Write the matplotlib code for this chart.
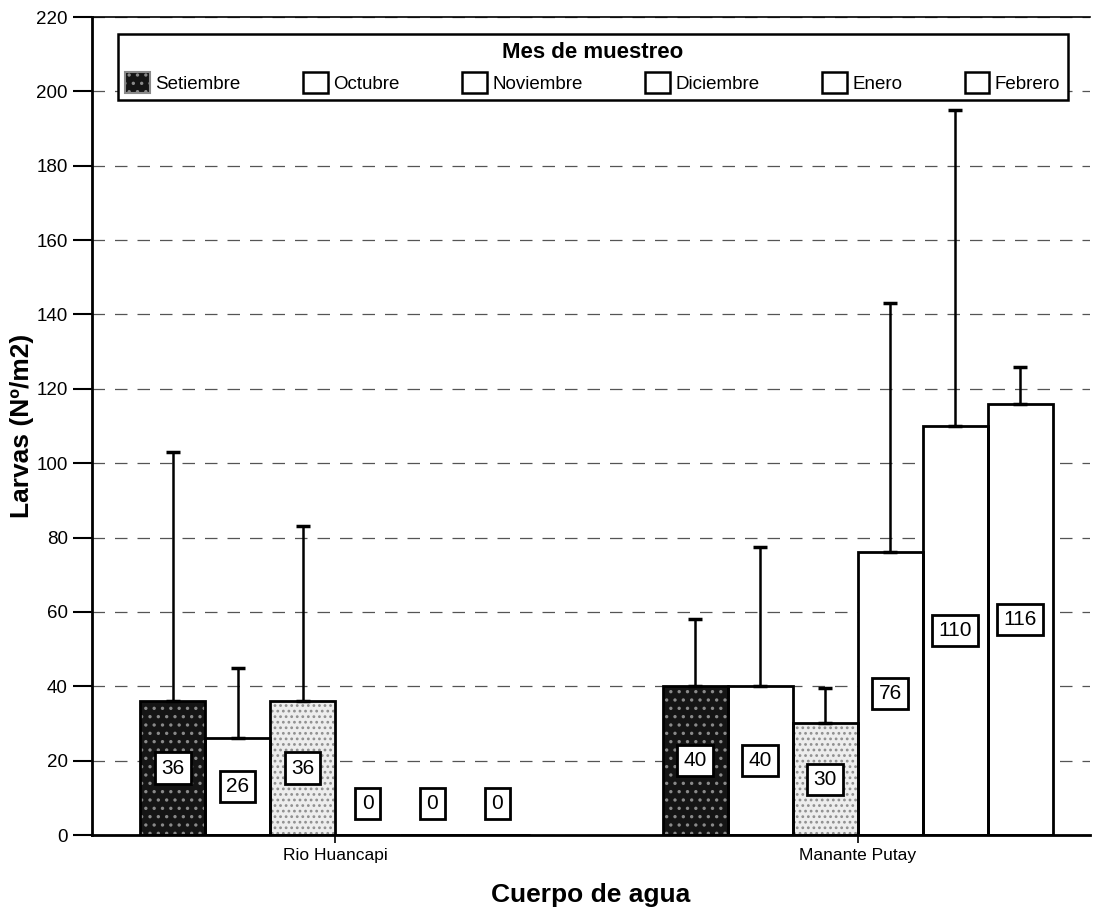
import matplotlib
matplotlib.use("Agg")
import matplotlib.pyplot as plt
import numpy as np
from matplotlib.patches import Patch

plt.rcParams['font.family'] = ['Liberation Sans', 'DejaVu Sans']
plt.rcParams['hatch.linewidth'] = 1.2

categories = ["Rio Huancapi", "Manante Putay"]
months = ["Setiembre", "Octubre", "Noviembre", "Diciembre", "Enero", "Febrero"]
values = {
    "Setiembre": [36, 40],
    "Octubre":   [26, 40],
    "Noviembre": [36, 30],
    "Diciembre": [0, 76],
    "Enero":     [0, 110],
    "Febrero":   [0, 116],
}
err_top = {
    "Setiembre": [103, 58],
    "Octubre":   [45, 77.5],
    "Noviembre": [83, 39.5],
    "Diciembre": [0, 143],
    "Enero":     [0, 195],
    "Febrero":   [0, 126],
}
yticks = list(range(0, 221, 20))

face = {"Setiembre": "#151515", "Octubre": "white", "Noviembre": "#ededed",
        "Diciembre": "white", "Enero": "white", "Febrero": "white"}
hatchc = {"Setiembre": "#8a8a8a", "Noviembre": "#8f8f8f"}
hatches = {"Setiembre": "..", "Noviembre": "..."}

fig = plt.figure(figsize=(10.93, 9.16), dpi=100)
ax = fig.add_axes([0.0842, 0.0884, 0.9128, 0.893])

x = np.arange(len(categories))
w = 0.1243
n = len(months)
for i, m in enumerate(months):
    pos = x + (i - (n - 1) / 2) * w
    vals = np.array(values[m], dtype=float)
    tops = np.array(err_top[m], dtype=float)
    if m in hatches:
        ax.bar(pos, vals, w, facecolor=face[m], edgecolor=hatchc[m],
               hatch=hatches[m], linewidth=0, zorder=2)
    else:
        ax.bar(pos, vals, w, facecolor=face[m], linewidth=0, zorder=2)
    ax.bar(pos, vals, w, fill=False, edgecolor="black", linewidth=2.0, zorder=3)
    for p, v, t in zip(pos, vals, tops):
        if v > 0:
            ax.errorbar([p], [v], yerr=[[0], [t - v]], fmt="none", ecolor="black",
                        elinewidth=1.8, capsize=5, capthick=2.5, zorder=4)
        ly = max(v / 2.0, 8.5)
        ax.text(p, ly, f"{int(v)}", ha="center", va="center", fontsize=15,
                zorder=5,
                bbox=dict(boxstyle="square,pad=0.3", facecolor="white",
                          edgecolor="black", linewidth=2.0))

ax.set_xlim(-0.465, 1.444)
ax.set_ylim(0, 220)
ax.set_yticks(yticks)
ax.set_yticklabels([str(t) for t in yticks], fontsize=13.5)
ax.set_xticks(x)
ax.set_xticklabels(categories, fontsize=12.5)
ax.tick_params(axis="y", length=14, width=1.5)
ax.tick_params(axis="x", length=6, width=1.2)
ax.yaxis.grid(True, linestyle=(0, (10, 8)), color="#555555", linewidth=0.9)
ax.set_axisbelow(True)
ax.spines["right"].set_visible(False)
ax.spines["top"].set_linewidth(1.2)
ax.spines["left"].set_linewidth(2.0)
ax.spines["bottom"].set_linewidth(2.0)

ax.set_ylabel("Larvas (Nº/m2)", fontsize=19, fontweight="bold")
ax.yaxis.set_label_coords(-0.058, 0.5)
ax.set_xlabel("Cuerpo de agua", fontsize=19, fontweight="bold", labelpad=14)

handles = []
for m in months:
    if m == "Setiembre":
        handles.append(Patch(facecolor="#151515", edgecolor="#8a8a8a", hatch="..",
                             linewidth=1.5, label=m))
    else:
        handles.append(Patch(facecolor="white", edgecolor="black", linewidth=1.8, label=m))
leg = ax.legend(handles=handles, ncol=6, mode="expand",
                bbox_to_anchor=(0.026, 0.8985, 0.952, 0.1), loc="lower left",
                title="Mes de muestreo", fontsize=13.5,
                title_fontproperties={"weight": "bold", "size": 16},
                frameon=True, fancybox=False, edgecolor="black",
                handlelength=1.3, handleheight=1.3, handletextpad=0.3,
                borderaxespad=0, framealpha=1)
leg.get_frame().set_linewidth(1.8)

fig.savefig("out.png", dpi=100)
